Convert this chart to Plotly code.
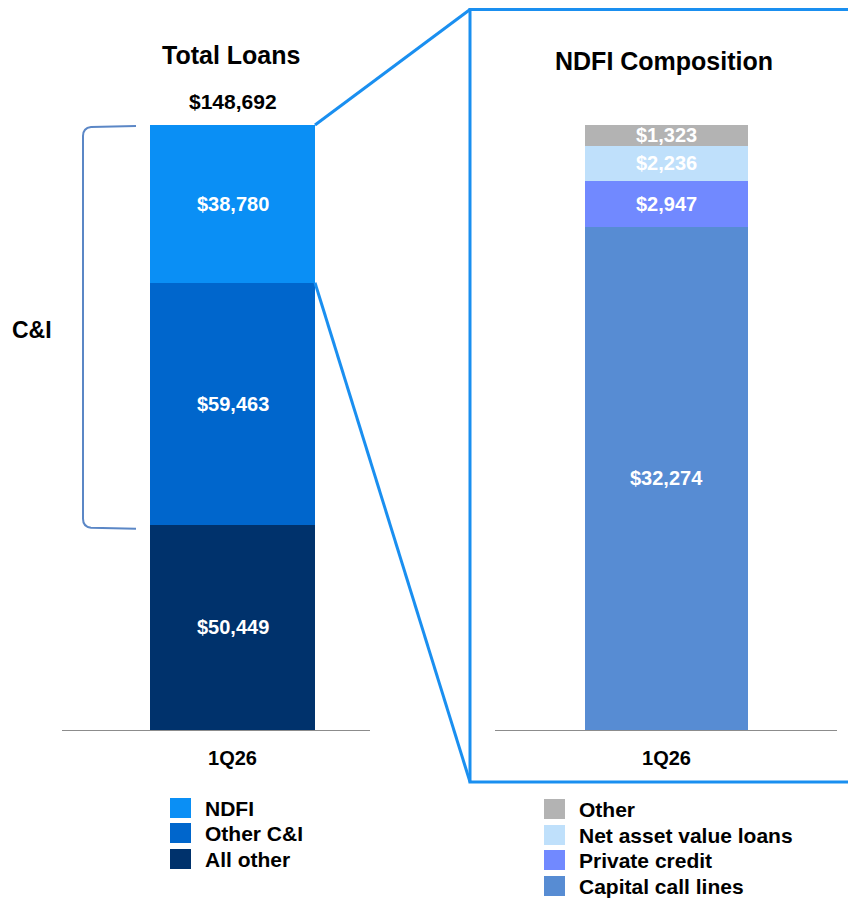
import plotly.graph_objects as go

W, H = 856, 901          # browser window
OFF = 8                  # default page margin around the plot div
FW, FH = W - OFF, H - OFF

# ---- data ----
period = ["1Q26"]
left_names = ["All other", "Other C&I", "NDFI"]          # bottom -> top
left_values = [50449, 59463, 38780]
left_colors = ["#00326c", "#0066cc", "#0a8ff5"]
left_total = 148692

right_names = ["Capital call lines", "Private credit", "Net asset value loans", "Other"]
right_values = [32274, 2947, 2236, 1323]
right_colors = ["#578cd3", "#7189ff", "#bfe0fb", "#b3b3b3"]
right_total = 38780

FONT = "Liberation Sans, Arial, sans-serif"

def px(x):
    return (x - OFF) / FW

def py(y):
    return 1 - (y - OFF) / FH

BASE, TOP = 730, 125

fig = go.Figure()

for n, v, c in zip(left_names, left_values, left_colors):
    fig.add_trace(go.Bar(x=period, y=[v], name=n, marker=dict(color=c, line=dict(width=0)),
                         width=1, xaxis="x", yaxis="y", showlegend=False, hoverinfo="skip"))
for n, v, c in zip(right_names, right_values, right_colors):
    fig.add_trace(go.Bar(x=period, y=[v], name=n, marker=dict(color=c, line=dict(width=0)),
                         width=1, xaxis="x2", yaxis="y2", showlegend=False, hoverinfo="skip"))

annotations = []

def seg_labels(values, xref, yref, size):
    cum = 0
    for v in values:
        annotations.append(dict(x=0, y=cum + v / 2, xref=xref, yref=yref, text=f"<b>${v:,}</b>",
                                showarrow=False, font=dict(family=FONT, size=size, color="white"),
                                xanchor="center", yanchor="middle"))
        cum += v

seg_labels(left_values, "x", "y", 20)
seg_labels(right_values, "x2", "y2", 20)

annotations.append(dict(x=0, y=left_total, xref="x", yref="y", text=f"<b>${left_total:,}</b>",
                        showarrow=False, yshift=10, yanchor="bottom",
                        font=dict(family=FONT, size=21, color="black")))
annotations.append(dict(x=px(231), y=py(55), xref="paper", yref="paper", text="<b>Total Loans</b>",
                        showarrow=False, xanchor="center", yanchor="middle",
                        font=dict(family=FONT, size=25, color="black")))
annotations.append(dict(x=px(664), y=py(61), xref="paper", yref="paper", text="<b>NDFI Composition</b>",
                        showarrow=False, xanchor="center", yanchor="middle",
                        font=dict(family=FONT, size=25, color="black")))
annotations.append(dict(x=px(32), y=py(330), xref="paper", yref="paper", text="<b>C&I</b>",
                        showarrow=False, xanchor="center", yanchor="middle",
                        font=dict(family=FONT, size=23, color="black")))

shapes = []

# legends (manual, square swatches)
def legend(names, colors, sq_x, ys):
    for n, c, yc in zip(names, colors, ys):
        shapes.append(dict(type="rect", xref="paper", yref="paper",
                           x0=px(sq_x), x1=px(sq_x + 21), y0=py(yc - 10), y1=py(yc + 10),
                           fillcolor=c, line=dict(width=0)))
        annotations.append(dict(x=px(sq_x + 33), y=py(yc), xref="paper", yref="paper",
                                text=f"<b>{n}</b>", showarrow=False, xanchor="left", yanchor="middle",
                                font=dict(family=FONT, size=21, color="black")))

legend(left_names[::-1], left_colors[::-1], 170, [808, 833, 859])
legend(right_names[::-1], right_colors[::-1], 544, [809, 835, 860, 886])

# positions of left bar boundaries (pixel)
def ypix_left(v):
    return BASE - v / left_total * (BASE - TOP)

ndfi_bottom = ypix_left(left_values[0] + left_values[1])
ndfi_top = ypix_left(left_total)

BLUE = "#1a8ff0"
BOX_T, BOX_B, BOX_L = 9.5, 782, 470
# zoom box
shapes.append(dict(type="path", xref="paper", yref="paper",
                   path=f"M{px(880)},{py(BOX_T)} L{px(BOX_L)},{py(BOX_T)} L{px(BOX_L)},{py(BOX_B)} L{px(880)},{py(BOX_B)}",
                   line=dict(color=BLUE, width=3)))
shapes.append(dict(type="line", xref="paper", yref="paper",
                   x0=px(315), y0=py(ndfi_top), x1=px(BOX_L), y1=py(BOX_T), line=dict(color=BLUE, width=3)))
shapes.append(dict(type="line", xref="paper", yref="paper",
                   x0=px(315), y0=py(ndfi_bottom), x1=px(BOX_L), y1=py(BOX_B), line=dict(color=BLUE, width=3)))

# C&I bracket
bt, bb = ypix_left(left_total) + 1, ypix_left(left_values[0]) + 4
bx, bx2 = 83, 136
path = (f"M{px(bx2)},{py(bt)} L{px(bx + 8)},{py(bt + 1)} Q{px(bx)},{py(bt + 2)} {px(bx)},{py(bt + 10)} "
        f"L{px(bx)},{py(bb - 10)} Q{px(bx)},{py(bb - 2)} {px(bx + 8)},{py(bb - 1)} L{px(bx2)},{py(bb)}")
shapes.append(dict(type="path", xref="paper", yref="paper", path=path,
                   line=dict(color="#5b87c6", width=2)))

# axes
lbar_c, rbar_c = 232.5, 666.5
lbw, rbw = 165, 163
ax_common = dict(showgrid=False, zeroline=False, showline=True, linecolor="#8c8c8c", linewidth=1,
                 ticks="", ticklabelstandoff=10,
                 tickfont=dict(family=FONT, size=20, color="black"), fixedrange=True)
fig.update_layout(
    width=FW, height=FH, margin=dict(l=0, r=0, t=0, b=0),
    paper_bgcolor="white", plot_bgcolor="white", barmode="stack", bargap=0,
    showlegend=False,
    xaxis=dict(domain=[px(62), px(370)], anchor="y", type="category",
               range=[-(lbar_c - 62) / lbw, (370 - lbar_c) / lbw],
               tickvals=period, ticktext=["<b>1Q26</b>"], **ax_common),
    yaxis=dict(domain=[py(BASE), py(TOP)], range=[0, left_total], visible=False, fixedrange=True),
    xaxis2=dict(domain=[px(495), px(837)], anchor="y2", type="category",
                range=[-(rbar_c - 495) / rbw, (837 - rbar_c) / rbw],
                tickvals=period, ticktext=["<b>1Q26</b>"], **ax_common),
    yaxis2=dict(domain=[py(BASE), py(TOP)], range=[0, right_total], visible=False, fixedrange=True),
    annotations=annotations, shapes=shapes,
    font=dict(family=FONT),
)

fig.write_html("out.html")
